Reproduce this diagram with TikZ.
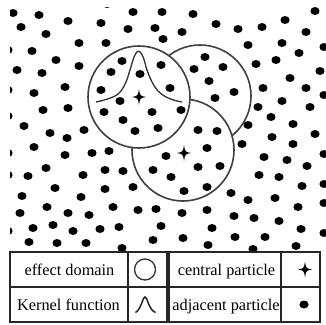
\documentclass[tikz,border=0pt]{standalone}
\usepackage{fontspec}
\setmainfont{Liberation Serif}
\begin{document}
\begin{tikzpicture}[x=1pt,y=-1pt,
  ring/.style={draw=black!75,line width=1.6pt,fill=white},
  particle/.style={fill=black},
  tabline/.style={draw=black!85,line width=1.1pt},
  celltext/.style={font=\fontsize{16.3}{19}\selectfont,inner sep=0pt,anchor=base},
  pcross/.pic={\fill[black] (0,-8) .. controls (1.1,-1.1) .. (7,0) .. controls (1.1,1.1) .. (0,8) .. controls (-1.1,1.1) .. (-7,0) .. controls (-1.1,-1.1) .. (0,-8) -- cycle;}
]
\useasboundingbox[fill=white] (0,0) rectangle (326,324);
% effect domains
\coordinate (cB) at (200,96);
\coordinate (cC) at (183,150);
\coordinate (cA) at (139,97);
\path[ring] (cB) circle[radius=51pt];
\path[ring] (cC) circle[radius=51pt];
\path[ring] (cA) circle[radius=51pt];
% particles
\begin{scope}
\clip (10,7.5) rectangle (326,252);
\foreach \x/\y in {
13/13,39/15,68/21,101/23,107/4,133/12,162/12,193/14,216/24,238/29,262/27,285/20,315/11,
21/27,46/34,79/43,106/43,128/29,155/28,182/32,163/39,306/32,324/47,248/45,282/43,299/53,
8/50,32/51,56/60,79/66,17/70,42/73,122/61,111/72,
140/74,161/65,205/57,223/67,194/69,256/64,276/60,320/71,209/81,290/78,
65/87,8/90,34/93,101/90,170/88,234/92,263/88,306/88,324/95,
120/101,215/98,282/101,68/108,43/110,104/112,152/112,181/110,258/107,310/107,8/116,123/120,271/117,
24/126,50/133,67/138,84/130,135/131,158/128,198/130,217/131,248/125,293/124,
315/134,272/137,8/153,34/147,65/155,92/153,109/151,207/148,242/144,293/144,166/156,264/157,287/160,324/154,
46/168,8/175,28/176,83/175,105/170,123/171,153/170,198/167,220/166,171/177,307/166,259/175,279/177,
55/188,22/196,81/197,105/189,133/187,207/187,184/191,231/193,302/186,324/184,248/200,275/198,
47/207,20/213,68/213,89/215,113/207,138/210,156/209,182/213,207/210,298/207,324/203,
234/216,254/218,279/221,301/229,324/233,212/228,161/226,
8/231,33/228,53/225,73/231,100/229,119/227,
29/242,57/243,86/243,153/240,183/238,235/237,265/237,122/248,208/245,253/249,296/246}
  \fill[particle] (\x,\y) ellipse[x radius=4.6pt,y radius=4pt];
\end{scope}
% kernel function
\draw[black!80,line width=1.3pt] plot[smooth,tension=0.6] coordinates {(96,102) (106,99.5) (115,96) (121,91) (126,82) (130,70) (134,57) (137.5,51.5) (140.5,52.5) (143.5,58) (147,70) (152,82) (158,91) (166,97) (175,100.5) (182,102)};
% central particles
\pic at (cA) {pcross};
\pic at (184,153) {pcross};
% legend table
\fill[white] (8,252) rectangle (322,324);
\draw[tabline] (10,252) rectangle (320,322);
\draw[tabline] (10,287) -- (320,287);
\draw[black!85,line width=2pt] (10,252) -- (10,322);
\draw[tabline] (128,252) -- (128,322);
\draw[black!85,line width=3.2pt] (168,252) -- (168,322);
\draw[tabline] (281,252) -- (281,322);
\node[celltext] (t1) at (69.5,275) {effect domain};
\node[celltext] (t2) at (68.5,310) {Kernel function};
\node[celltext] (t3) at (226.5,275) {central particle};
\node[celltext] (t4) at (226,310) {adjacent particle};
\coordinate (s1) at (145,269.5);
\draw[black!80,line width=1.3pt] (s1) circle[radius=10.5pt];
\draw[black!85,line width=1.5pt] (135.5,312.5) .. controls (139,311) and (141,305) .. (143.5,298.5) .. controls (144.5,296.5) and (145.5,296.5) .. (146.5,298.5) .. controls (149,305) and (151,311) .. (155.5,312.5);
\pic at (305,269.5) {pcross};
\fill[particle] (304,304.5) ellipse[x radius=4.6pt,y radius=4pt];
\end{tikzpicture}
\end{document}
